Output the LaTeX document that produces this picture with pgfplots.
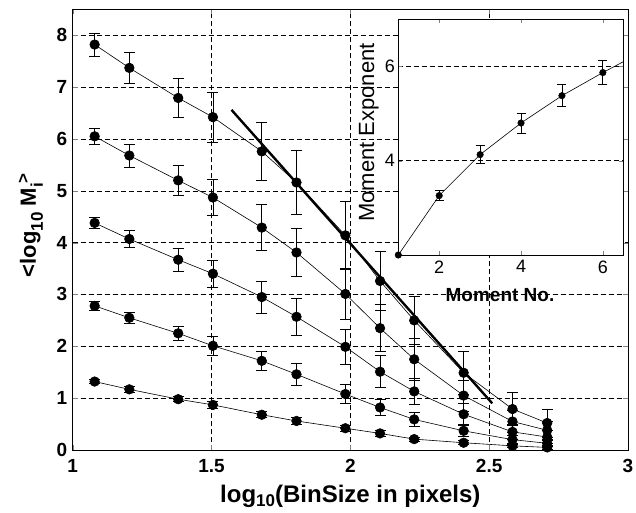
\documentclass[border=0pt]{standalone}
\usepackage{fontspec}
\setmainfont{Liberation Sans}
\usepackage{pgfplots}
\pgfplotsset{compat=1.18}
\newcommand\lsub[2][-7pt]{\raisebox{#1}{\fontsize{17}{17}\selectfont #2}}
\newcommand\lsup[1]{\raisebox{7pt}{\fontsize{17}{17}\selectfont #1}}

\begin{document}
\begin{tikzpicture}
\pgfplotsset{
  mom/.style={black, line width=0.6pt, mark=*, mark size=4.8pt,
    error bars/.cd, y dir=both, y explicit,
    error bar style={line width=0.8pt},
    error mark options={black, rotate=90, mark size=5.5pt, line width=0.8pt}},
}
\begin{axis}[
  name=main, at={(0,0)}, anchor=south west,
  scale only axis, width=555.3pt, height=440.7pt,
  xmin=1, xmax=3, ymin=0, ymax=8.5,
  xtick={1,1.5,2,2.5,3}, ytick={0,1,...,8},
  tick align=inside, major tick length=5pt,
  axis line style={line width=0.8pt},
  grid=major, grid style={black, line width=0.5pt, dash pattern=on 5pt off 3pt},
  /pgf/number format/assume math mode=true,
  tick label style={font=\fontsize{19}{22}\selectfont\bfseries},
  xticklabel style={yshift=-6pt},
  yticklabel style={xshift=-2pt},
  xlabel={log\lsub[-4.5pt]{10}(BinSize in pixels)},
  ylabel={<log\lsub{10} M\lsub{i}\lsup{>}},
  xlabel style={font=\fontsize{24}{28}\selectfont\bfseries, at={(axis description cs:0.5,0)}, anchor=base, yshift=-52pt},
  ylabel style={font=\fontsize{22}{26}\selectfont\bfseries, at={(axis description cs:-0.0661,0.51)}, anchor=base},
  clip mode=individual,
]
% moment 1
\addplot[mom] coordinates {
 (1.079,1.32) +- (0,0.04) (1.204,1.17) +- (0,0.05) (1.380,0.98) +- (0,0.05)
 (1.505,0.87) +- (0,0.07) (1.681,0.68) +- (0,0.06) (1.806,0.56) +- (0,0.06)
 (1.982,0.42) +- (0,0.06) (2.107,0.32) +- (0,0.05) (2.230,0.21) +- (0,0.04)
 (2.408,0.14) +- (0,0.04) (2.584,0.08) +- (0,0.03) (2.709,0.05) +- (0,0.03)};
% moment 2
\addplot[mom] coordinates {
 (1.079,2.78) +- (0,0.08) (1.204,2.55) +- (0,0.11) (1.380,2.25) +- (0,0.14)
 (1.505,2.01) +- (0,0.18) (1.681,1.72) +- (0,0.19) (1.806,1.46) +- (0,0.21)
 (1.982,1.08) +- (0,0.19) (2.107,0.82) +- (0,0.16) (2.230,0.59) +- (0,0.13)
 (2.408,0.37) +- (0,0.10) (2.584,0.20) +- (0,0.08) (2.709,0.13) +- (0,0.06)};
% moment 3
\addplot[mom] coordinates {
 (1.079,4.38) +- (0,0.11) (1.204,4.07) +- (0,0.17) (1.380,3.67) +- (0,0.22)
 (1.505,3.40) +- (0,0.26) (1.681,2.95) +- (0,0.31) (1.806,2.57) +- (0,0.35)
 (1.982,1.99) +- (0,0.34) (2.107,1.51) +- (0,0.31) (2.230,1.13) +- (0,0.26)
 (2.408,0.69) +- (0,0.20) (2.584,0.35) +- (0,0.15) (2.709,0.25) +- (0,0.12)};
% moment 4
\addplot[mom] coordinates {
 (1.079,6.05) +- (0,0.16) (1.204,5.68) +- (0,0.22) (1.380,5.20) +- (0,0.29)
 (1.505,4.87) +- (0,0.35) (1.681,4.29) +- (0,0.44) (1.806,3.81) +- (0,0.47)
 (1.982,3.01) +- (0,0.50) (2.107,2.35) +- (0,0.45) (2.230,1.75) +- (0,0.40)
 (2.408,1.05) +- (0,0.30) (2.584,0.55) +- (0,0.22) (2.709,0.38) +- (0,0.18)};
% moment 5
\addplot[mom] coordinates {
 (1.079,7.82) +- (0,0.22) (1.204,7.37) +- (0,0.29) (1.380,6.79) +- (0,0.37)
 (1.505,6.42) +- (0,0.48) (1.681,5.76) +- (0,0.56) (1.806,5.16) +- (0,0.61)
 (1.982,4.14) +- (0,0.65) (2.107,3.26) +- (0,0.57) (2.230,2.50) +- (0,0.47)
 (2.408,1.49) +- (0,0.42) (2.584,0.79) +- (0,0.32) (2.709,0.52) +- (0,0.27)};
% slope line
\addplot[black, line width=2.4pt, no marks] coordinates {(1.572,6.56) (2.511,0.90)};
\end{axis}

\begin{axis}[
  at={(325.6pt,195pt)}, anchor=south west,
  scale only axis, width=225pt, height=235.7pt,
  xmin=1, xmax=6.5, ymin=2, ymax=7,
  xtick={2,4,6}, ytick={4,6},
  tick align=inside, major tick length=4pt,
  axis line style={line width=0.8pt},
  axis background/.style={fill=white},
  ymajorgrids, grid style={black, line width=0.5pt, dash pattern=on 5pt off 3pt},
  /pgf/number format/assume math mode=true,
  tick label style={font=\fontsize{18}{21}\selectfont},
  xticklabel style={yshift=-2pt},
  xlabel={Moment No.}, ylabel={Moment Exponent},
  xlabel style={font=\fontsize{19}{22}\selectfont\bfseries, at={(axis description cs:0.452,0)}, anchor=base, yshift=-46.7pt},
  ylabel style={font=\fontsize{22}{26}\selectfont, at={(axis description cs:-0.108,0.52)}, anchor=base},
  clip mode=individual,
]
\addplot[black, line width=0.6pt, no marks] coordinates {
 (1,2.00) (2,3.26) (3,4.13) (4,4.80) (5,5.38) (6,5.87) (6.5,6.10)};
\addplot[black, only marks, mark=*, mark size=3.3pt,
  error bars/.cd, y dir=both, y explicit,
  error bar style={line width=0.8pt},
  error mark options={black, rotate=90, mark size=4.5pt, line width=0.8pt}] coordinates {
 (1,2.00) +- (0,0) (2,3.26) +- (0,0.11) (3,4.13) +- (0,0.19)
 (4,4.80) +- (0,0.21) (5,5.38) +- (0,0.23) (6,5.87) +- (0,0.25)};
\end{axis}

\pgfresetboundingbox
\useasboundingbox (-72.7pt,-62pt) rectangle (563.3pt,450pt);
\end{tikzpicture}
\end{document}
